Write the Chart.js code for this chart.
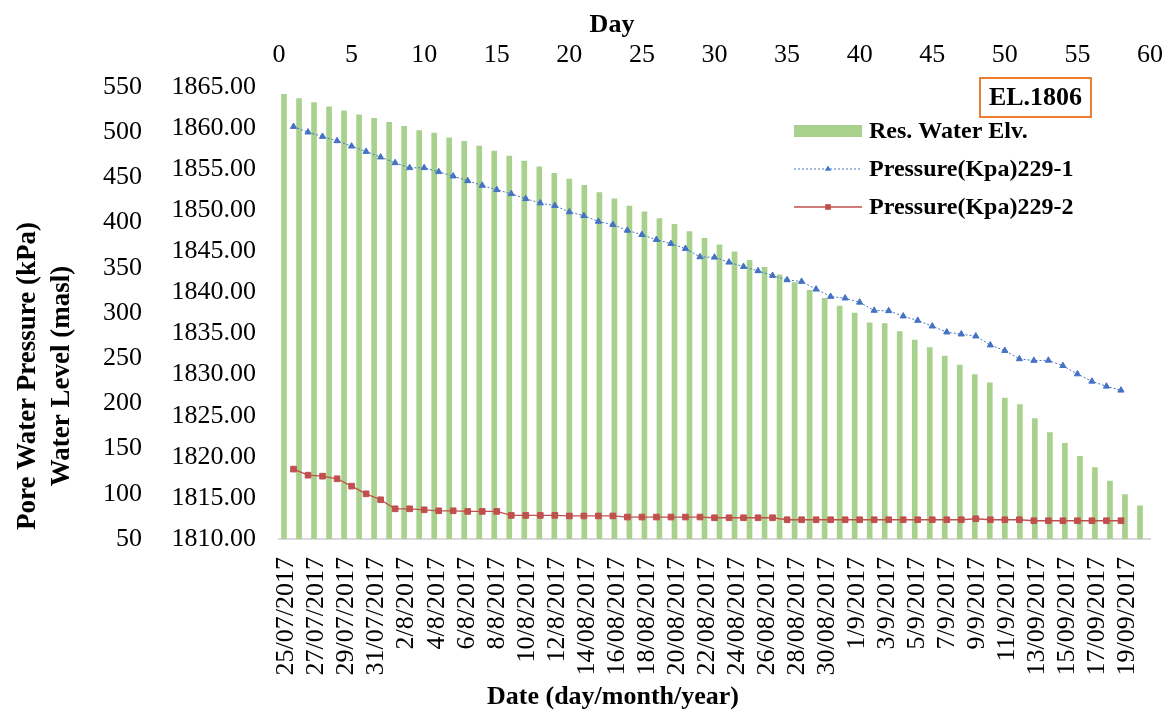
<!DOCTYPE html>
<html>
<head>
<meta charset="utf-8">
<title>Reservoir level and pore water pressure</title>
<script src="https://cdn.jsdelivr.net/npm/chart.js@4.4.1/dist/chart.umd.min.js"></script>
<style>
  html, body { margin: 0; padding: 0; background: #fff; }
  #wrap { width: 1168px; height: 713px; }
</style>
</head>
<body>
<div id="wrap"><canvas id="levelChart" width="1168" height="713"></canvas></div>
<script>
// reading dates (one bar per day)
const dates = [
  '25/07/2017', '26/07/2017', '27/07/2017', '28/07/2017', '29/07/2017', '30/07/2017', '31/07/2017',
  '1/8/2017', '2/8/2017', '3/8/2017', '4/8/2017', '5/8/2017', '6/8/2017', '7/8/2017', '8/8/2017',
  '9/8/2017', '10/8/2017', '11/8/2017', '12/8/2017',
  '13/08/2017', '14/08/2017', '15/08/2017', '16/08/2017', '17/08/2017', '18/08/2017', '19/08/2017',
  '20/08/2017', '21/08/2017', '22/08/2017', '23/08/2017', '24/08/2017', '25/08/2017', '26/08/2017',
  '27/08/2017', '28/08/2017', '29/08/2017', '30/08/2017', '31/08/2017',
  '1/9/2017', '2/9/2017', '3/9/2017', '4/9/2017', '5/9/2017', '6/9/2017', '7/9/2017', '8/9/2017',
  '9/9/2017', '10/9/2017', '11/9/2017', '12/9/2017',
  '13/09/2017', '14/09/2017', '15/09/2017', '16/09/2017', '17/09/2017', '18/09/2017', '19/09/2017', '20/09/2017'
];

// day number of each piezometer reading
const days = [1, 2, 3, 4, 5, 6, 7, 8, 9, 10, 11, 12, 13, 14, 15, 16, 17, 18, 19, 20,
  21, 22, 23, 24, 25, 26, 27, 28, 29, 30, 31, 32, 33, 34, 35, 36, 37, 38, 39, 40,
  41, 42, 43, 44, 45, 46, 47, 48, 49, 50, 51, 52, 53, 54, 55, 56, 57, 58];

// reservoir water elevation (masl)
const waterLevel = [
  1864.1, 1863.6, 1863.1, 1862.6, 1862.1, 1861.6, 1861.2, 1860.7, 1860.2, 1859.7,
  1859.4, 1858.8, 1858.4, 1857.8, 1857.2, 1856.6, 1856.0, 1855.3, 1854.5, 1853.8,
  1853.05, 1852.15, 1851.4, 1850.5, 1849.8, 1849.0, 1848.3, 1847.4, 1846.6, 1845.8,
  1844.95, 1843.9, 1843.05, 1842.15, 1841.2, 1840.25, 1839.3, 1838.35, 1837.5, 1836.3,
  1836.2, 1835.25, 1834.2, 1833.3, 1832.25, 1831.15, 1830.0, 1829.0, 1827.15, 1826.35,
  1824.65, 1822.95, 1821.65, 1820.05, 1818.7, 1817.05, 1815.4, 1814.05
];

// piezometer 229-1 (kPa)
const pressure1 = [
  506.2, 500.0, 495.2, 490.4, 484.5, 478.6, 472.4, 466.1, 460.6, 460.6,
  456.2, 451.4, 446.2, 441.1, 436.3, 431.9, 426.4, 421.6, 418.7, 411.7,
  407.6, 401.3, 397.7, 391.4, 386.6, 381.1, 376.7, 371.2, 362.0, 361.6,
  356.1, 351.3, 346.6, 341.4, 336.6, 334.8, 326.3, 318.2, 316.4, 311.8,
  302.8, 302.4, 296.5, 291.7, 285.4, 278.8, 276.6, 274.4, 264.5, 258.4,
  249.2, 247.4, 247.6, 241.7, 232.5, 224.4, 218.9, 214.5
];

// piezometer 229-2 (kPa)
const pressure2 = [
  127.3, 120.6, 119.5, 116.6, 108.5, 100.0, 93.4, 83.4, 83.4, 82.3,
  81.2, 81.2, 80.5, 80.5, 80.5, 76.1, 76.1, 76.1, 76.1, 75.5,
  75.5, 75.5, 75.5, 74.3, 74.3, 74.3, 74.3, 74.3, 74.3, 73.5,
  73.5, 73.5, 73.5, 73.5, 71.3, 71.3, 71.3, 71.3, 71.3, 71.3,
  71.3, 71.3, 71.3, 71.3, 71.3, 71.3, 71.3, 72.4, 71.3, 71.3,
  71.3, 70.2, 70.2, 70.2, 70.2, 70.2, 70.2, 70.2
];

const serif = "'Times New Roman', 'Liberation Serif', serif";
const GREEN = '#a9d18e';
const BLUE = '#4472c4';
const RED = '#c0504d';

Chart.defaults.font.family = serif;
Chart.defaults.color = '#000';

function marker(ctx, style, x, y, r) {
  ctx.beginPath();
  if (style === 'triangle') {
    ctx.moveTo(x, y - r);
    ctx.lineTo(x + r * 0.866, y + r * 0.5);
    ctx.lineTo(x - r * 0.866, y + r * 0.5);
    ctx.closePath();
  } else {
    const s = r * Math.SQRT1_2;
    ctx.rect(x - s, y - s, s * 2, s * 2);
  }
  ctx.fill();
}

// horizontal axes: no extra side padding, plot spans the fixed width
function fixHeight(h) {
  return s => {
    s.height = h;
    s.paddingLeft = 0;
    s.paddingRight = 0;
  };
}

// titles, legend and the elevation tag
const overlay = {
  id: 'overlay',
  afterDraw(chart) {
    const ctx = chart.ctx;
    ctx.save();
    ctx.fillStyle = '#000';
    ctx.textAlign = 'center';
    ctx.textBaseline = 'middle';

    ctx.font = 'bold 26px ' + serif;
    ctx.fillText('Day', 612, 25);
    ctx.fillText('Date (day/month/year)', 613, 697);

    ctx.font = 'bold 27px ' + serif;
    [['Pore Water Pressure (kPa)', 28], ['Water Level (masl)', 62]].forEach(([t, x]) => {
      ctx.save();
      ctx.translate(x, 376);
      ctx.rotate(-Math.PI / 2);
      ctx.fillText(t, 0, 0);
      ctx.restore();
    });

    // legend
    const x0 = 794, x1 = 862, rows = [131, 169, 207];
    ctx.font = 'bold 24px ' + serif;
    ctx.textAlign = 'left';
    chart.data.datasets.forEach((ds, i) => {
      const y = rows[i];
      if (ds.type === 'line') {
        ctx.strokeStyle = ds.borderColor;
        ctx.lineWidth = ds.borderWidth;
        ctx.setLineDash(ds.borderDash || []);
        ctx.beginPath();
        ctx.moveTo(x0, y);
        ctx.lineTo(x1, y);
        ctx.stroke();
        ctx.setLineDash([]);
        ctx.fillStyle = ds.pointBackgroundColor;
        marker(ctx, ds.pointStyle, (x0 + x1) / 2, y, ds.pointRadius);
      } else {
        ctx.fillStyle = ds.backgroundColor;
        ctx.fillRect(x0, y - 6, x1 - x0, 12);
      }
      ctx.fillStyle = '#000';
      ctx.fillText(ds.label, 869, y + 1);
    });

    // elevation tag
    ctx.fillStyle = '#fff';
    ctx.fillRect(980, 78, 111, 39);
    ctx.strokeStyle = '#ed7d31';
    ctx.lineWidth = 2;
    ctx.strokeRect(980, 78, 111, 39);
    ctx.fillStyle = '#000';
    ctx.textAlign = 'center';
    ctx.font = 'bold 26px ' + serif;
    ctx.fillText('EL.1806', 1035.5, 98);
    ctx.restore();
  }
};

const ctx = document.getElementById('levelChart').getContext('2d');
const levelChart = new Chart(ctx, {
  type: 'bar',
  data: {
    labels: dates,
    datasets: [{
      label: 'Res. Water Elv.',
      data: waterLevel,
      backgroundColor: GREEN,
      xAxisID: 'x',
      yAxisID: 'yWater',
      barThickness: 5,
      order: 3
    }, {
      type: 'line',
      label: 'Pressure(Kpa)229-1',
      data: pressure1.map((p, i) => ({ x: days[i], y: p })),
      borderColor: BLUE,
      borderWidth: 1,
      borderDash: [2, 2],
      pointStyle: 'triangle',
      pointRadius: 3.6,
      pointBackgroundColor: BLUE,
      pointBorderColor: BLUE,
      pointBorderWidth: 1,
      tension: 0,
      xAxisID: 'xDay',
      yAxisID: 'yPress',
      order: 2
    }, {
      type: 'line',
      label: 'Pressure(Kpa)229-2',
      data: pressure2.map((p, i) => ({ x: days[i], y: p })),
      borderColor: RED,
      borderWidth: 1.3,
      pointStyle: 'rect',
      pointRadius: 4,
      pointBackgroundColor: RED,
      pointBorderColor: RED,
      pointBorderWidth: 1,
      tension: 0,
      xAxisID: 'xDay',
      yAxisID: 'yPress',
      order: 1
    }]
  },
  options: {
    responsive: false,
    animation: false,
    layout: { padding: { left: 0, right: 18, top: 0, bottom: 0 } },
    plugins: {
      legend: { display: false },
      tooltip: { enabled: false }
    },
    scales: {
      x: {
        type: 'category',
        position: 'bottom',
        offset: true,
        grid: { display: false, drawTicks: false },
        border: { display: true, color: '#d9d9d9', width: 2 },
        ticks: {
          autoSkip: false,
          minRotation: 90,
          maxRotation: 90,
          padding: 18,
          font: { size: 26 },
          callback: function (v, i) { return i % 2 === 0 ? this.getLabelForValue(v) : ''; }
        },
        afterFit: fixHeight(174)
      },
      xDay: {
        type: 'linear',
        position: 'top',
        offset: false,
        min: 0,
        max: 60,
        grid: { display: false, drawTicks: false, offset: false },
        border: { display: false },
        ticks: { stepSize: 5, padding: 16, font: { size: 26 } },
        afterFit: fixHeight(87)
      },
      yWater: {
        type: 'linear',
        position: 'left',
        weight: 0,
        min: 1810,
        max: 1865,
        grid: { display: false, drawTicks: false },
        border: { display: false },
        ticks: { stepSize: 5, padding: 23, font: { size: 26 }, callback: v => v.toFixed(2) },
        afterFit: s => { s.width = 119; }
      },
      yPress: {
        type: 'linear',
        position: 'left',
        weight: 1,
        min: 50,
        max: 550,
        grid: { display: false, drawTicks: false },
        border: { display: false },
        ticks: { stepSize: 50, padding: 18, font: { size: 26 } },
        afterFit: s => { s.width = 160; }
      }
    }
  },
  plugins: [overlay]
});
</script>
</body>
</html>
